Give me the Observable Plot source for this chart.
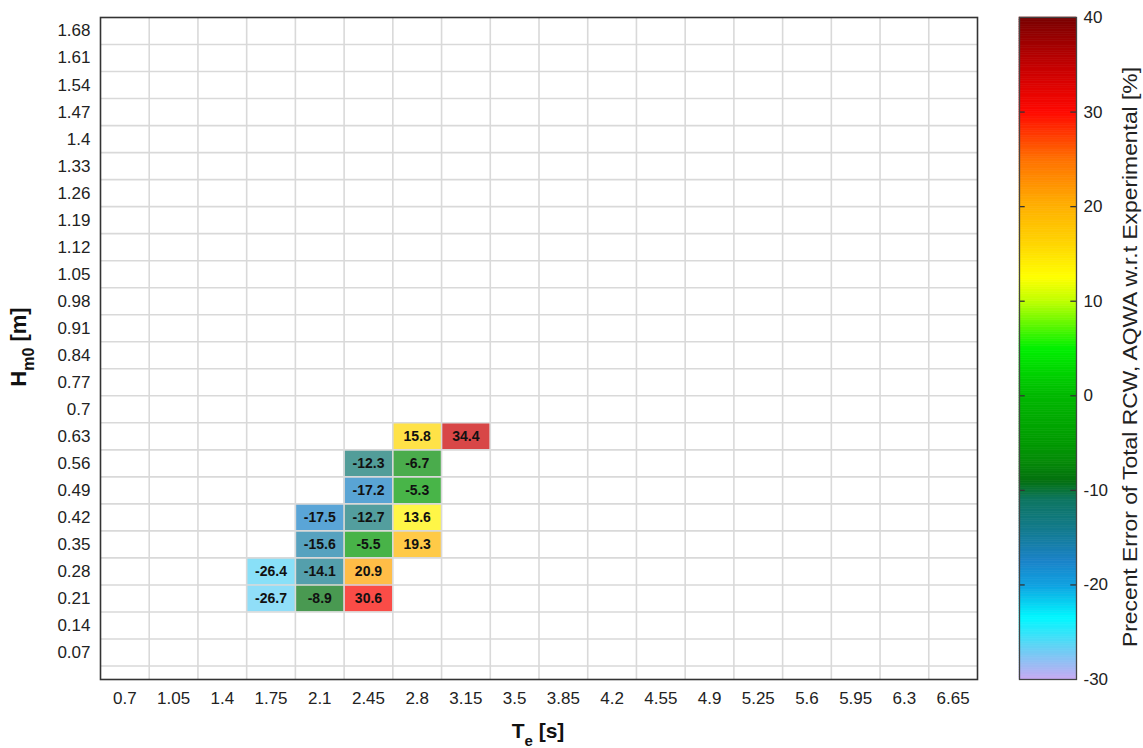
<!DOCTYPE html>
<html>
<head>
<meta charset="utf-8">
<script src="https://cdn.jsdelivr.net/npm/d3@7"></script>
<script src="https://cdn.jsdelivr.net/npm/@observablehq/plot@0.6"></script>
<style>
  html, body { margin: 0; padding: 0; background: #fff; }
  #chart { position: relative; width: 1143px; height: 748px; font-family: "Liberation Sans", Arial, sans-serif; }
  #chart svg { position: absolute; left: 0; top: 0; }
</style>
</head>
<body>
<div id="chart"></div>
<script>
// Tick labels
const xTicks = [0.7, 1.05, 1.4, 1.75, 2.1, 2.45, 2.8, 3.15, 3.5, 3.85, 4.2, 4.55, 4.9, 5.25, 5.6, 5.95, 6.3, 6.65];
const yTicks = [0.07, 0.14, 0.21, 0.28, 0.35, 0.42, 0.49, 0.56, 0.63, 0.7, 0.77, 0.84, 0.91, 0.98, 1.05, 1.12, 1.19, 1.26, 1.33, 1.4, 1.47, 1.54, 1.61, 1.68];
const cbTicks = [-30, -20, -10, 0, 10, 20, 30, 40];

// Cell data
const cellTe  = [1.75, 1.75, 2.1, 2.1, 2.1, 2.1, 2.45, 2.45, 2.45, 2.45, 2.45, 2.45, 2.8, 2.8, 2.8, 2.8, 2.8, 3.15];
const cellHm0 = [0.28, 0.21, 0.42, 0.35, 0.28, 0.21, 0.56, 0.49, 0.42, 0.35, 0.28, 0.21, 0.63, 0.56, 0.49, 0.42, 0.35, 0.63];
const cellErr = [-26.4, -26.7, -17.5, -15.6, -14.1, -8.9, -12.3, -17.2, -12.7, -5.5, 20.9, 30.6, 15.8, -6.7, -5.3, 13.6, 19.3, 34.4];

// Colormap
const cStops  = [-30, -26.5, -23.5, -20, -17.5, -14, -11, -9, -7, -5, 0, 5, 10, 12.5, 16, 20, 25, 30, 34.5, 40];
const cColors = ["#c8a8f2", "#5fd3f5", "#00f8ff", "#0fa0e0", "#1a82c8", "#127a8a", "#0d7560", "#03700e", "#058a08", "#009a00", "#00b800", "#00f000", "#c0ff00", "#ffff00", "#ffd500", "#ffb000", "#ff7000", "#ff0800", "#c80000", "#780000"];

const titleX = "T";
const titleXSub = "e";
const titleXUnit = " [s]";
const titleY = "H";
const titleYSub = "m0";
const titleYUnit = " [m]";
const titleC = "Precent Error of Total RCW, AQWA w.r.t Experimental [%]";

const cells = cellTe.map((te, i) => ({te, h: cellHm0[i], err: cellErr[i]}));
const dx = (xTicks[1] - xTicks[0]) / 2;
const dy = (yTicks[1] - yTicks[0]) / 2;
const xEdges = xTicks.slice(1).map(t => t - dx);
const yEdges = yTicks.map(t => t - dy);
const colorOpts = {type: "linear", domain: cStops, range: cColors, interpolate: "rgb"};

const W = 1143, H = 748;
const font = "Liberation Sans, Arial, sans-serif";

const main = Plot.plot({
  width: W, height: H,
  marginLeft: 100, marginRight: 166, marginTop: 17, marginBottom: 69,
  style: {fontSize: "17px", fontFamily: font, color: "#222", background: "transparent"},
  x: {domain: [xTicks[0] - dx, xTicks[xTicks.length - 1] + dx], ticks: xTicks, tickFormat: d => String(d), tickSize: 0, tickPadding: 12, label: null},
  y: {domain: [0, yTicks[yTicks.length - 1] + dy], ticks: yTicks, tickFormat: d => String(d), tickSize: 0, tickPadding: 10, label: null},
  color: colorOpts,
  marks: [
    Plot.rect(cells, {x1: d => d.te - dx, x2: d => d.te + dx, y1: d => d.h - dy, y2: d => d.h + dy, fill: "err", fillOpacity: 0.72}),
    Plot.ruleX(xEdges, {stroke: "#d9d9d9", strokeWidth: 1.6}),
    Plot.ruleY(yEdges, {stroke: "#d9d9d9", strokeWidth: 1.6}),
    Plot.text(cells, {x: "te", y: "h", text: d => d.err.toFixed(1), fontWeight: "bold", fontSize: 14, fill: "#111"}),
    Plot.frame({stroke: "#333", strokeWidth: 1.6})
  ]
});

const gradStep = 0.25;
const grad = d3.range(cbTicks[0], cbTicks[cbTicks.length - 1], gradStep);
const inner = cbTicks.slice(1, -1);
const cbar = Plot.plot({
  width: W, height: H,
  marginLeft: 1019, marginRight: 67, marginTop: 17, marginBottom: 69,
  style: {fontSize: "17px", fontFamily: font, color: "#222", background: "transparent"},
  x: {domain: [0, 1], axis: null},
  y: {domain: [cbTicks[0], cbTicks[cbTicks.length - 1]], ticks: cbTicks, tickFormat: d => String(d), axis: "right", tickSize: 0, tickPadding: 7, label: null},
  color: colorOpts,
  marks: [
    Plot.rect(grad, {x1: 0, x2: 1, y1: d => d, y2: d => d + gradStep, fill: d => d + gradStep / 2, stroke: d => d + gradStep / 2, strokeWidth: 0.6}),
    Plot.ruleY(inner, {x1: 0, x2: 0.1, stroke: "#333", strokeWidth: 1.3}),
    Plot.ruleY(inner, {x1: 0.9, x2: 1, stroke: "#333", strokeWidth: 1.3}),
    Plot.frame({stroke: "#444", strokeWidth: 1.3})
  ]
});

const chart = document.getElementById("chart");
chart.appendChild(main);
chart.appendChild(cbar);

// Axis titles with subscripts
const svg = d3.select(main);
const xt = svg.append("text")
  .attr("x", 538).attr("y", 738)
  .attr("text-anchor", "middle")
  .attr("font-family", font).attr("font-weight", "bold").attr("font-size", 21).attr("fill", "#111");
xt.append("tspan").text(titleX);
xt.append("tspan").attr("dy", 8).attr("font-size", 15).text(titleXSub);
xt.append("tspan").attr("dy", -8).text(titleXUnit);

const yt = svg.append("text")
  .attr("transform", "translate(26,347) rotate(-90)")
  .attr("text-anchor", "middle")
  .attr("font-family", font).attr("font-weight", "bold").attr("font-size", 22).attr("fill", "#111");
yt.append("tspan").text(titleY);
yt.append("tspan").attr("dy", 8).attr("font-size", 16).text(titleYSub);
yt.append("tspan").attr("dy", -8).text(titleYUnit);

d3.select(cbar).append("text")
  .attr("transform", "translate(1137,357) rotate(-90)")
  .attr("text-anchor", "middle")
  .attr("font-family", font).attr("font-size", 20).attr("fill", "#222")
  .attr("textLength", 580).attr("lengthAdjust", "spacingAndGlyphs")
  .text(titleC);
</script>
</body>
</html>
